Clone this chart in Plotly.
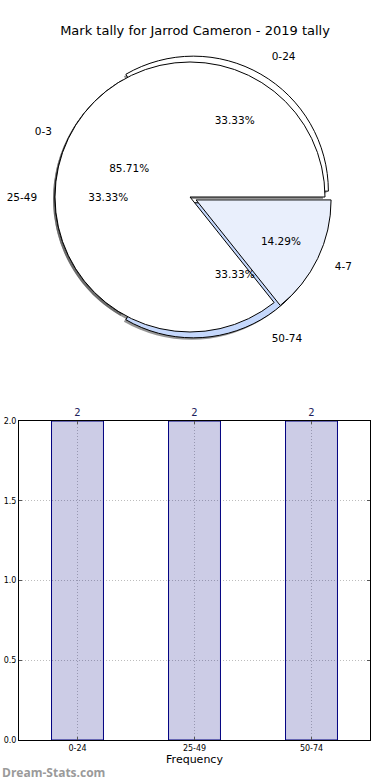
import plotly.graph_objects as go

# ---- data ----
title_text = "Mark tally for Jarrod Cameron - 2019 tally"
inner_labels = ["0-3", "4-7"]
inner_values = [6, 1]
inner_colors = ["#ffffff", "#e9effc"]
inner_pull = [0.0, 0.05]

band_labels = ["0-24", "25-49", "50-74"]
band_values = [2, 2, 2]
band_colors = ["#ffffff", "#ffffff", "#c5d8fc"]
band_pull = [0.05, 0.0, 0.05]

bar_categories = ["0-24", "25-49", "50-74"]
bar_values = [2, 2, 2]
y_ticks = [0.0, 0.5, 1.0, 1.5, 2.0]

# ---- layout geometry (pixels) ----
W, H = 390, 780
ML, MR, MT, MB = 19, 20, 0, 40
PW, PH = W - ML - MR, H - MT - MB
cx, cy, r = 190, 197, 135


def pie_domain(dx=0, dy=0, scale=1.0):
    half = r * scale * 1.05
    x0 = (cx + dx - half - ML) / PW
    x1 = (cx + dx + half - ML) / PW
    y0 = (PH - (cy + dy + half - MT)) / PH
    y1 = (PH - (cy + dy - half - MT)) / PH
    return dict(x=[x0, x1], y=[y0, y1])


def start_at_three(values):
    # plotly's counterclockwise pies place the first slice ending at `rotation`;
    # shift so the first slice starts at 3 o'clock like a classic pie chart
    rot = 90 - 360.0 * values[0] / sum(values)
    return ((rot + 180) % 360) - 180


FONT = "DejaVu Sans"
fig = go.Figure()

common = dict(sort=False, direction="counterclockwise",
              hoverinfo="skip", showlegend=False)

# shadows
for labels, values, pull in [(band_labels, band_values, band_pull),
                             (inner_labels, inner_values, inner_pull)]:
    fig.add_trace(go.Pie(labels=labels, values=values, pull=pull,
                         rotation=start_at_three(values),
                         domain=pie_domain(-2, 2), textinfo="none",
                         marker=dict(colors=["rgba(80,80,80,0.6)"] * len(values),
                                     line=dict(width=0)), **common))

# filled wedges: band pie first, inner pie on top
fig.add_trace(go.Pie(labels=band_labels, values=band_values, pull=band_pull,
                     rotation=start_at_three(band_values),
                     domain=pie_domain(), textinfo="none",
                     marker=dict(colors=band_colors, line=dict(color="#000000", width=1)),
                     **common))
fig.add_trace(go.Pie(labels=inner_labels, values=inner_values, pull=inner_pull,
                     rotation=start_at_three(inner_values),
                     domain=pie_domain(), textinfo="none",
                     marker=dict(colors=inner_colors, line=dict(color="#000000", width=1)),
                     **common))

# text-only pies (percent inside, label outside)
clear = "rgba(0,0,0,0)"
for labels, values, pull, pct_scale in [(band_labels, band_values, band_pull, 1.13),
                                        (inner_labels, inner_values, inner_pull, 1.0)]:
    fig.add_trace(go.Pie(labels=labels, values=values, pull=pull,
                         rotation=start_at_three(values),
                         domain=pie_domain(scale=pct_scale), textposition="inside",
                         texttemplate="%{percent:.2%}", insidetextorientation="horizontal",
                         textfont=dict(family=FONT, size=10.5, color="#000000"),
                         marker=dict(colors=[clear] * len(values), line=dict(width=0)),
                         **common))
    fig.add_trace(go.Pie(labels=labels, values=values, pull=pull,
                         rotation=start_at_three(values),
                         domain=pie_domain(scale=1.11), textposition="outside",
                         texttemplate="%{label}",
                         outsidetextfont=dict(family=FONT, size=10.5, color="#000000"),
                         marker=dict(colors=[clear] * len(values), line=dict(width=0)),
                         **common))

# bar chart
fig.add_trace(go.Bar(x=bar_categories, y=bar_values, width=0.444,
                     marker=dict(color="rgba(0,0,128,0.2)",
                                 line=dict(color="#000080", width=1)),
                     text=[str(v) for v in bar_values], textposition="outside",
                     textfont=dict(family=FONT, size=10, color="#1e1e5c"),
                     cliponaxis=False, hoverinfo="skip", showlegend=False))

bar_top = 421
ydom_top = (PH - (bar_top - MT)) / PH
GRID = "#bdbdbd"

fig.update_layout(
    width=W, height=H,
    margin=dict(l=ML, r=MR, t=MT, b=MB, autoexpand=False),
    paper_bgcolor="white", plot_bgcolor="white",
    font=dict(family=FONT, color="#000000"),
    title=dict(text=title_text, x=0.5, xanchor="center", xref="container",
               y=1 - 30 / H, yanchor="middle", yref="container",
               font=dict(family=FONT, size=13, color="#000000")),
    xaxis=dict(domain=[0, 1], range=[-0.5, 2.5], automargin=False, showline=True,
               linecolor="#000000", linewidth=1, mirror="allticks", ticks="inside",
               ticklen=3, tickcolor="#555555", showgrid=True, gridcolor=GRID,
               griddash="1px,2px", gridwidth=1, tickfont=dict(size=8), zeroline=False,
               title=dict(text="Frequency", font=dict(size=11), standoff=2)),
    yaxis=dict(domain=[0, ydom_top], range=[0, 2.0], automargin=False, tickvals=y_ticks,
               ticktext=[f"{v:.1f}" for v in y_ticks], showline=True,
               linecolor="#000000", linewidth=1, mirror="allticks", ticks="inside",
               ticklen=3, tickcolor="#555555", showgrid=True, gridcolor=GRID,
               griddash="1px,2px", gridwidth=1, tickfont=dict(size=8), zeroline=False),
    annotations=[dict(text="<b>Dream-Stats.com</b>", x=0, y=0, xref="paper", yref="paper",
                      xanchor="left", yanchor="top", xshift=-ML, yshift=-22,
                      showarrow=False, font=dict(family="Open Sans", size=12, color="#9a9a9a"))],
)

fig.write_html("out.html", config={"displayModeBar": False},
               post_script="document.body.style.margin='0';document.body.style.overflow='hidden';")
